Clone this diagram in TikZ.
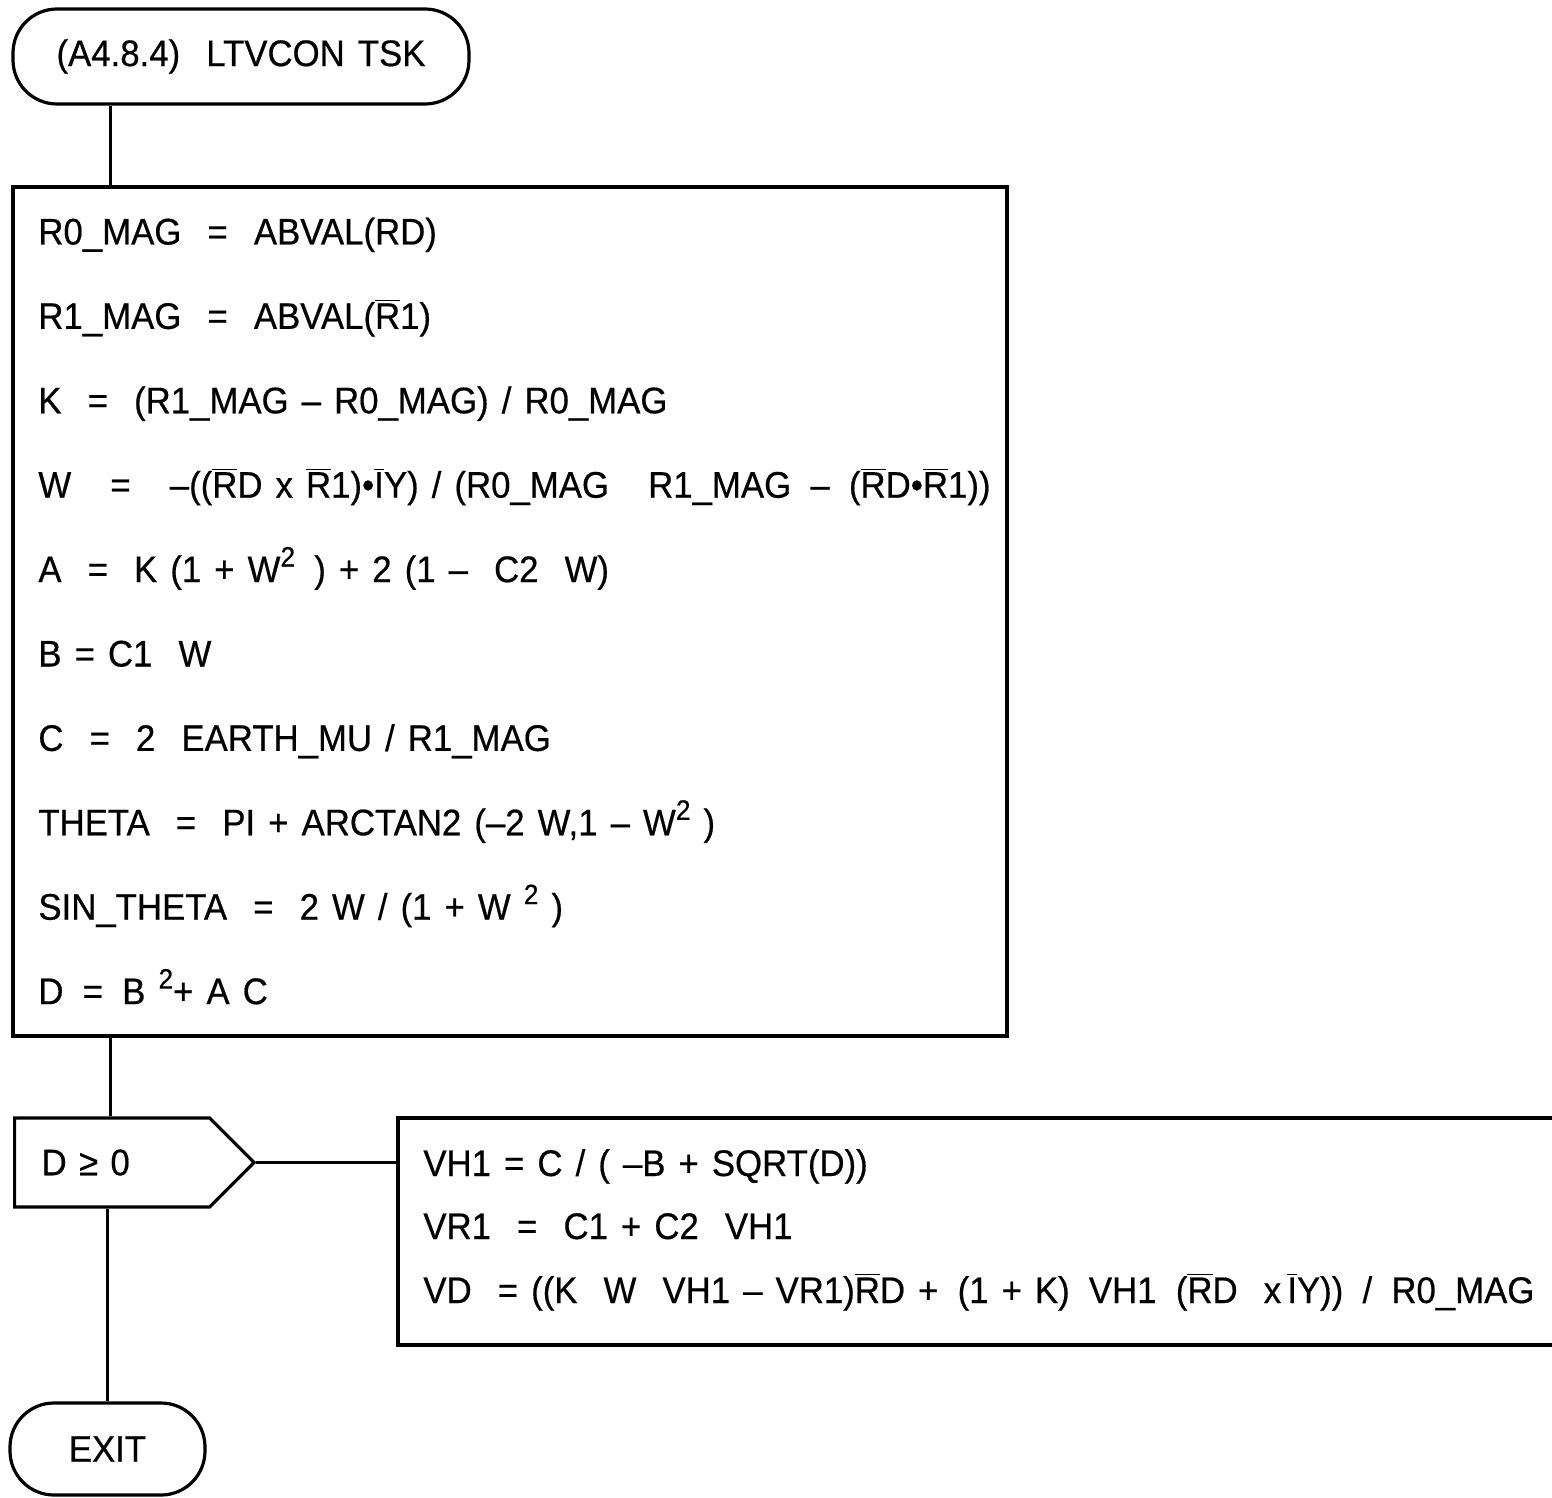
\documentclass[tikz,border=0pt]{standalone}
\usepackage{fontspec}
\setmainfont{Liberation Sans}[FakeStretch=0.94,WordSpace=1.35,FakeBold=0.5]
\usetikzlibrary{shapes.symbols}
\newcommand\eqfont{\fontsize{18.5}{22}\selectfont}
\newcommand\ovl[1]{$\overline{\mbox{#1}}$}
\newcommand\sqr{\raisebox{0.42em}{\fontsize{14}{14}\selectfont 2}}
\tikzset{term/.style={draw,line width=1.6pt,rounded corners=22pt,font=\eqfont},
  box/.style={draw,line width=1.6pt,inner sep=0pt},
  test/.style={draw,line width=1.6pt,signal,signal to=east,signal pointer angle=90,font=\eqfont,align=left},
  eqn/.style={anchor=base west,inner sep=0pt,font=\eqfont},
  link/.style={line width=1.2pt}}

\begin{document}
\begin{tikzpicture}[x=0.5pt,y=-0.5pt]
\useasboundingbox (0,0) rectangle (1552,1498);
\node[term,minimum width=228pt,minimum height=47.5pt] (start) at (241,56.5) {(A4.8.4)\ \ LTVCON TSK};
\node[box,minimum width=497pt,minimum height=424.5pt] (calc) at (510,611.5) {};
\foreach \txt [count=\i] in {
  {R0\_MAG \ = \ ABVAL(RD)},
  {R1\_MAG \ = \ ABVAL(\ovl{R}1)},
  {K \ = \ (R1\_MAG – R0\_MAG) / R0\_MAG},
  {W \ \ = \ \ –((\ovl{R}D x \ovl{R}1)\textbullet\ovl{I}Y) / (R0\_MAG \ \ R1\_MAG \,–\, (\ovl{R}D\textbullet\ovl{R}1))},
  {A \ = \ K (1 + W\sqr\ \,) + 2 (1 – \ C2 \ W)},
  {B = C1 \ W},
  {C \ = \ 2 \ EARTH\_MU / R1\_MAG},
  {THETA \ = \ PI + ARCTAN2 (–2 W,1 – W\sqr\ )},
  {SIN\_THETA \ = \ 2 W / (1 + W \sqr\ )},
  {D \,= \,B \sqr+ A C}}
  \node[eqn] (eq\i) at (38,160.1+84.4*\i) {\txt};
\node[test,anchor=west,minimum height=44.5pt,text width=70.5pt,inner xsep=13.5pt,inner ysep=0pt] (dec) at (13,1162.5) {D ≥ 0};
\node[box,minimum width=586pt,minimum height=113.5pt] (res) at (984,1231.5) {};
\node[eqn] (vh) at (423,1176) {VH1 = C / ( –B + SQRT(D))};
\node[eqn] (vr) at (423,1239) {VR1 \ = \ C1 + C2 \ VH1};
\node[eqn] (vd) at (423,1303) {VD \ = ((K \ W \ VH1 – VR1)\ovl{R}D + \,(1 + K)\, VH1 \,(\ovl{R}D \ x\,\ovl{I}Y)) \,/\, R0\_MAG};
\node[term,minimum width=97.5pt,minimum height=46pt] (exit) at (107.5,1449) {EXIT};
\draw[link] ([xshift=49.5pt]calc.north west) -- ([xshift=49.5pt]calc.north west |- start.south);
\draw[link] ([xshift=49.5pt]calc.south west) -- ([xshift=49.5pt]calc.south west |- dec.north);
\draw[link] (dec.east) -- (dec.east -| res.west);
\draw[link] (exit.north) -- (exit.north |- dec.south);
\end{tikzpicture}
\end{document}
